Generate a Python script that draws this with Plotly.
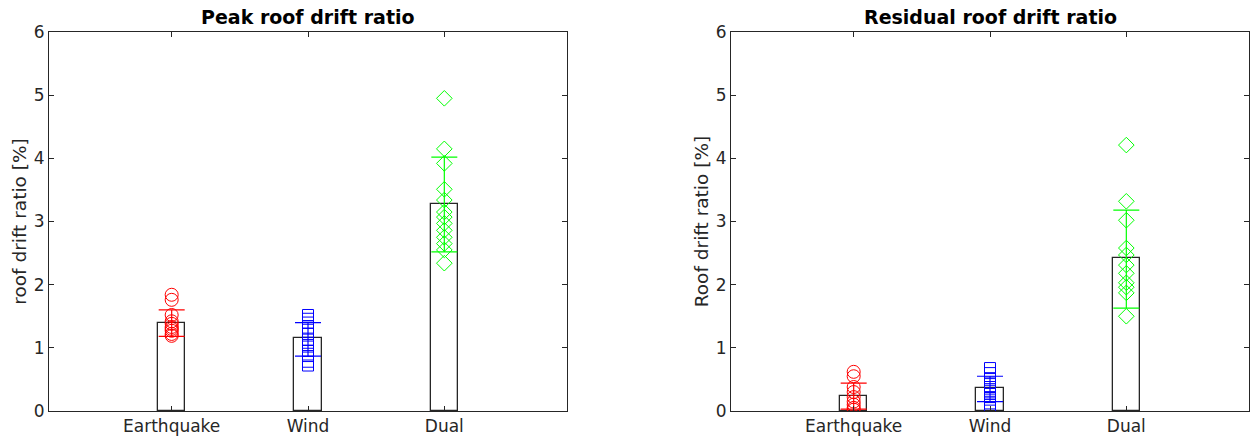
import plotly.graph_objects as go

categories = ["Earthquake", "Wind", "Dual"]
colors = ["#ff0000", "#0000ff", "#00ff00"]
symbols = ["circle-open", "square-open", "diamond-open"]
msizes = [13, 11, 12]

# Peak roof drift ratio
peak_eq = [1.84, 1.76, 1.52, 1.42, 1.38, 1.33, 1.30, 1.27, 1.22, 1.19]
peak_wind = [1.52, 1.46, 1.40, 1.32, 1.22, 1.13, 1.08, 1.02, 0.95, 0.87, 0.78, 0.72]
peak_dual = [4.95, 4.15, 3.92, 3.51, 3.34, 3.15, 3.07, 2.97, 2.86, 2.75, 2.65, 2.55, 2.34]
peak_mean = [1.40, 1.15, 3.28]
peak_err_up = [0.20, 0.25, 0.74]
peak_err_down = [0.22, 0.28, 0.76]

# Residual roof drift ratio
res_eq = [0.62, 0.55, 0.38, 0.30, 0.22, 0.15, 0.10, 0.05, 0.02]
res_wind = [0.68, 0.60, 0.52, 0.45, 0.38, 0.32, 0.27, 0.22, 0.18, 0.12, 0.05]
res_dual = [4.21, 3.32, 3.02, 2.58, 2.47, 2.31, 2.18, 2.03, 1.96, 1.87, 1.50]
res_mean = [0.23, 0.36, 2.42]
res_err_up = [0.21, 0.19, 0.76]
res_err_down = [0.20, 0.21, 0.79]

yticks = [0, 1, 2, 3, 4, 5, 6]

font_family = "DejaVu Sans"
axis_color = "#262626"

fig = go.Figure()

panels = [
    ("x", "y", [peak_eq, peak_wind, peak_dual], peak_mean, peak_err_up, peak_err_down),
    ("x2", "y2", [res_eq, res_wind, res_dual], res_mean, res_err_up, res_err_down),
]

for xa, ya, groups, means, eu, ed in panels:
    fig.add_trace(go.Bar(
        x=[1, 2, 3], y=means, width=0.2,
        marker=dict(color="rgba(255,255,255,0)", line=dict(color=axis_color, width=1.3)),
        xaxis=xa, yaxis=ya, showlegend=False,
    ))
    for i, vals in enumerate(groups):
        fig.add_trace(go.Scatter(
            x=[i + 1] * len(vals), y=vals, mode="markers",
            marker=dict(symbol=symbols[i], size=msizes[i], color=colors[i],
                        line=dict(color=colors[i], width=1)),
            xaxis=xa, yaxis=ya, showlegend=False,
        ))
    for i in range(3):
        fig.add_trace(go.Scatter(
            x=[i + 1], y=[means[i]], mode="markers",
            marker=dict(size=1, color="rgba(0,0,0,0)"),
            error_y=dict(type="data", symmetric=False, array=[eu[i]], arrayminus=[ed[i]],
                         color=colors[i], thickness=1.2, width=13),
            xaxis=xa, yaxis=ya, showlegend=False,
        ))

ydom = [25 / 436, 404 / 436]
xaxis_common = dict(
    range=[0.1, 3.9], tickvals=[1, 2, 3], ticktext=categories,
    ticks="inside", ticklen=5, tickcolor=axis_color, showline=True, linecolor=axis_color,
    linewidth=1, mirror="allticks", showgrid=False, zeroline=False, automargin=False,
    tickfont=dict(family=font_family, size=17, color=axis_color),
)
yaxis_common = dict(
    range=[0, 6], tickvals=yticks,
    ticks="inside", ticklen=5, tickcolor=axis_color, showline=True, linecolor=axis_color,
    linewidth=1, mirror="allticks", showgrid=False, zeroline=False, automargin=False,
    tickfont=dict(family=font_family, size=17, color=axis_color),
    domain=ydom,
)

fig.update_layout(
    width=1250, height=436,
    margin=dict(l=0, r=0, t=0, b=0),
    paper_bgcolor="white", plot_bgcolor="white",
    bargap=0,
    xaxis=dict(**xaxis_common, domain=[49 / 1250, 567 / 1250], anchor="y"),
    yaxis=dict(**yaxis_common, anchor="x",
               title=dict(text="roof drift ratio [%]", standoff=2,
                          font=dict(family=font_family, size=18.5, color=axis_color))),
    xaxis2=dict(**xaxis_common, domain=[731 / 1250, 1249 / 1250], anchor="y2"),
    yaxis2=dict(**yaxis_common, anchor="x2",
                title=dict(text="Roof drift ratio [%]", standoff=2,
                           font=dict(family=font_family, size=18.5, color=axis_color))),
    annotations=[
        dict(text="<b>Peak roof drift ratio</b>", x=308 / 1250, y=1 - 17 / 436,
             xref="paper", yref="paper", showarrow=False, xanchor="center", yanchor="middle",
             font=dict(family=font_family, size=19, color="black")),
        dict(text="<b>Residual roof drift ratio</b>", x=990 / 1250, y=1 - 17 / 436,
             xref="paper", yref="paper", showarrow=False, xanchor="center", yanchor="middle",
             font=dict(family=font_family, size=19, color="black")),
    ],
)

fig.write_html("out.html")
